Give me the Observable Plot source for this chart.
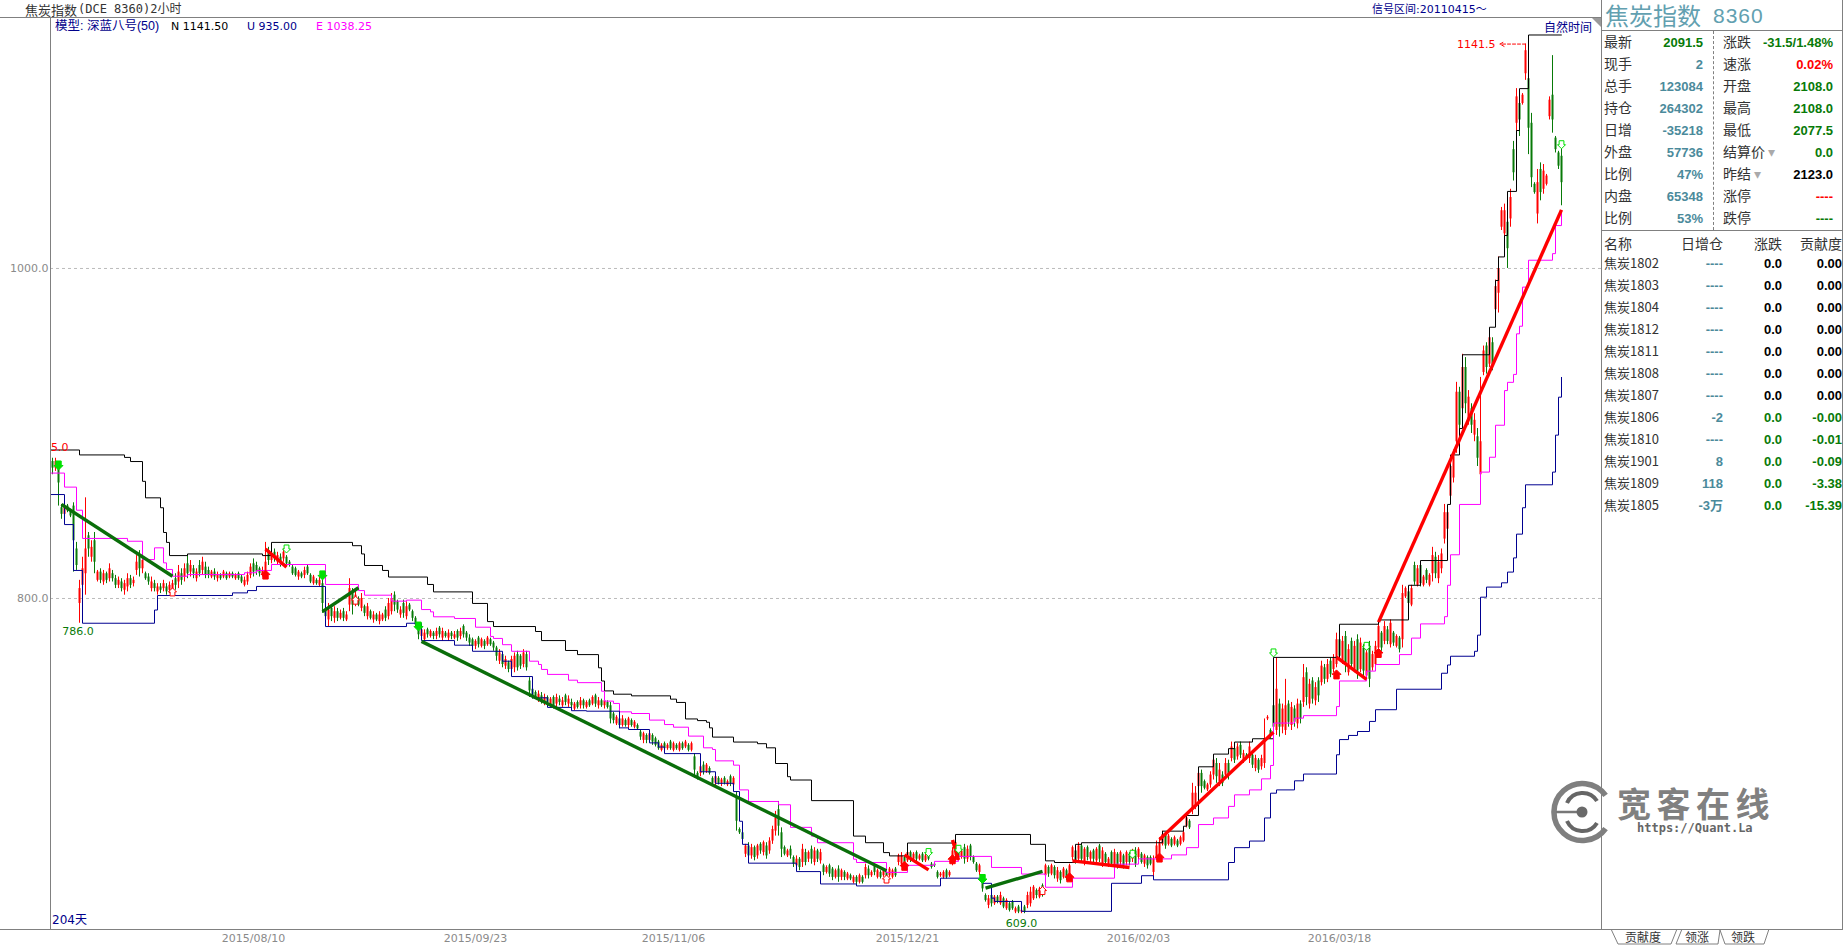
<!DOCTYPE html>
<html><head><meta charset="utf-8">
<script src="https://cdn.jsdelivr.net/npm/d3@7"></script>
<script src="https://cdn.jsdelivr.net/npm/@observablehq/plot@0.6"></script>
<style>
html,body{margin:0;padding:0;background:#fff;overflow:hidden;width:1843px;height:947px}
#root{position:relative;width:1843px;height:947px;font-family:"Noto Sans CJK SC",sans-serif}
#root svg{display:block}
.a{position:absolute;white-space:pre;line-height:1}
.ln{position:absolute;background:#808080}
</style></head><body><div id="root"></div>
<script>
// ---- candles: one value per 2-hour bar, 20 per row
const high=[
885,885,881,857,859,857,854,858,834,811,825,861,840,835,840,817,818,817,816,821,
817,814,813,812,811,815,814,813,826,829,826,816,815,813,811,809,809,811,809,810,
811,815,820,818,821,826,823,820,818,823,825,822,819,817,818,816,815,817,816,816,
816,815,816,814,813,816,821,824,822,819,819,834,831,828,830,828,827,830,826,823,
820,819,817,816,819,820,815,814,812,813,812,795,797,796,795,794,793,794,792,812,
806,805,801,803,796,797,793,792,791,792,791,795,800,803,804,799,795,799,798,797,
793,789,785,783,781,782,781,780,782,783,782,780,781,780,780,781,782,784,780,778,
776,775,777,776,775,777,776,774,771,769,767,765,762,765,767,768,766,769,768,752,
747,744,744,743,742,741,740,741,742,741,740,742,741,739,737,738,740,739,738,739,
741,742,740,739,739,738,737,731,729,728,729,727,728,727,726,724,720,719,718,719,
718,716,714,712,713,712,714,713,712,713,713,714,712,713,706,695,700,701,700,698,
692,693,692,691,692,690,693,692,683,661,659,651,652,651,650,651,652,653,652,655,
662,671,677,661,650,648,650,644,644,643,651,648,647,650,649,648,648,639,638,639,
637,636,638,636,635,634,633,632,632,633,632,639,638,635,639,636,635,636,635,637,
636,637,645,646,644,647,647,646,647,645,646,645,646,640,639,635,634,635,636,635,
649,655,650,648,651,650,651,644,640,639,632,621,620,621,620,620,622,619,618,616,
617,613,614,612,614,622,625,626,624,625,627,639,638,639,638,637,635,637,636,639,
650,648,652,651,649,650,647,648,649,651,649,646,643,647,648,646,647,645,647,646,
648,649,649,646,645,644,644,644,653,655,659,658,657,655,656,654,656,659,668,666,
688,686,697,696,690,688,695,705,703,700,695,703,702,713,711,712,713,708,706,713,
706,705,703,705,727,729,721,739,764,739,736,751,738,737,735,739,738,760,758,751,
752,749,752,762,760,763,764,766,779,778,777,780,772,776,774,778,776,772,770,774,
768,774,786,780,786,783,787,780,778,777,808,807,805,808,822,820,822,814,818,815,
831,828,826,830,857,856,885,890,931,928,948,946,926,918,912,903,934,953,955,961,
958,993,1007,1037,1039,1035,1048,1077,1109,1108,1106,1136,1134,1094,1052,1060,1064,1063,1057,1104,1129,1080,1071,1076];
const low=[
875,877,856,848,849,852,849,816,817,785,803,802,825,822,815,810,809,808,809,810,
810,806,806,804,802,804,806,807,814,813,815,811,808,804,804,802,803,804,802,803,
803,805,806,808,810,812,813,812,810,813,814,812,812,812,811,810,811,812,811,812,
812,811,811,809,807,808,812,813,814,813,813,814,820,821,822,820,819,822,819,819,
814,813,811,812,812,814,809,808,808,807,791,787,783,786,785,786,787,786,786,792,
790,795,795,792,789,787,787,785,786,784,786,786,787,790,792,791,788,788,787,792,
786,782,775,775,773,776,776,775,775,776,774,776,774,775,775,774,775,776,774,771,
770,769,770,770,769,771,771,768,762,760,758,757,755,754,755,756,757,758,756,740,
739,739,737,736,735,735,734,733,734,735,734,735,734,733,732,733,733,733,733,734,
735,734,733,734,733,733,724,724,723,721,722,722,721,722,721,720,714,712,712,713,
711,710,708,707,708,708,708,707,708,707,708,709,707,707,691,690,692,693,694,693,
687,686,687,686,687,686,686,685,659,657,652,643,642,642,641,642,645,644,642,645,
651,656,656,643,644,643,642,637,636,635,637,638,640,639,638,640,639,632,633,631,
629,630,628,629,629,629,629,627,626,627,627,630,630,631,632,630,630,631,630,631,
630,631,638,637,638,640,640,641,640,641,640,640,641,636,637,630,631,630,630,631,
638,640,641,642,639,640,641,639,634,632,622,616,612,613,614,615,614,612,611,610,
611,609,609,609,609,612,613,617,618,618,619,630,631,632,630,628,627,630,629,630,
641,639,640,640,638,641,640,640,639,640,637,638,637,637,635,636,638,636,638,638,
640,637,641,639,637,636,638,630,641,643,650,648,650,649,650,649,650,652,661,660,
669,672,684,682,684,683,685,690,688,686,686,691,690,701,700,702,703,700,702,700,
697,695,694,696,697,726,715,715,717,716,718,717,722,720,722,721,724,734,735,733,
736,735,737,747,748,749,752,755,758,762,760,755,753,758,755,751,755,752,751,746,
756,758,768,768,772,772,770,771,770,767,770,800,795,795,808,807,807,807,809,807,
810,812,809,815,833,838,858,870,888,900,908,912,905,900,895,880,870,935,936,940,
938,972,973,1023,1017,1000,1025,1053,1083,1080,1099,1114,1069,1049,1045,1027,1041,1045,1050,1090,1082,1070,1060,1038];
const open=[
883,879,879,855,851,856,853,856,830,797,808,815,838,825,835,811,816,810,815,812,
815,812,808,810,805,807,812,809,817,826,818,815,813,806,809,804,807,806,807,805,
805,812,810,815,813,821,816,818,812,820,817,819,817,813,816,812,814,813,815,813,
815,812,815,813,808,810,814,821,820,818,814,816,829,823,828,822,825,824,825,822,
819,818,813,815,814,819,814,809,811,808,809,793,787,794,788,792,788,792,787,796,
803,797,800,794,795,789,792,787,790,786,787,793,789,792,802,798,790,797,789,796,
792,788,784,777,775,781,777,779,777,782,776,779,776,779,776,780,777,783,779,776,
775,771,776,771,774,772,775,773,770,762,766,759,761,757,758,766,765,760,766,750,
745,743,739,741,737,740,735,740,736,739,735,741,736,737,733,737,735,738,734,738,
736,741,735,738,735,737,735,730,724,727,723,726,723,726,722,723,719,714,717,714,
717,715,713,708,712,709,713,708,711,708,712,710,711,708,704,694,694,699,695,697,
691,688,691,688,691,687,692,687,680,660,658,645,650,644,649,644,651,646,650,647,
653,659,672,658,649,644,648,643,638,642,640,646,642,648,640,647,641,638,634,638,
636,631,636,631,634,630,632,628,631,628,631,632,636,632,638,631,634,632,634,632,
631,636,640,639,643,641,646,642,646,642,645,641,645,639,639,634,632,631,635,632,
641,644,648,643,649,642,650,643,639,634,630,620,614,620,615,619,615,618,612,615,
616,610,613,610,613,614,615,618,623,619,626,632,637,633,637,630,634,631,635,631,
643,647,642,650,640,649,642,647,641,650,639,645,638,646,637,645,640,644,640,645,
642,647,643,645,639,643,643,634,643,645,651,657,651,654,651,653,651,653,662,665,
672,675,686,694,689,684,687,693,700,689,693,693,700,703,709,704,711,702,705,703,
705,697,702,698,700,727,720,735,720,736,722,720,736,723,733,724,736,737,755,736,
750,738,750,749,758,751,762,757,760,775,762,777,755,774,757,775,757,770,753,771,
758,760,770,779,774,781,772,779,771,776,775,801,804,796,820,808,820,808,817,808,
815,825,812,818,836,842,862,873,895,925,915,940,908,915,899,898,875,937,953,942,
955,975,985,1025,1021,1028,1030,1072,1088,1100,1100,1118,1115,1088,1051,1033,1060,1048,1051,1092,1105,1079,1070,1068];
const close=[
879,883,870,851,856,853,850,835,820,806,818,830,830,831,822,816,811,815,811,818,
812,808,811,806,809,812,808,811,822,818,823,812,810,810,806,807,805,809,804,808,
809,808,816,811,818,815,820,815,816,815,822,814,814,816,813,814,812,816,812,815,
813,814,812,810,811,814,819,816,816,815,817,822,823,827,824,826,821,828,821,820,
815,814,816,813,817,815,810,813,809,811,797,789,793,789,792,788,791,788,790,806,
796,802,796,800,791,795,788,790,787,790,790,788,797,800,796,793,793,791,795,793,
788,784,778,781,779,778,780,777,780,778,780,777,779,777,778,776,780,778,776,773,
771,774,772,775,771,776,772,770,765,767,760,763,757,763,765,758,759,767,758,744,
741,740,742,738,740,737,739,735,740,737,738,737,739,735,736,734,738,735,737,735,
740,736,738,735,738,734,727,726,728,723,727,723,727,723,725,721,716,718,714,718,
713,711,709,711,709,711,709,712,709,712,709,713,708,712,696,691,698,695,699,694,
688,692,688,690,688,689,688,691,665,658,654,650,644,649,643,650,647,652,644,653,
660,667,662,648,645,647,644,639,642,637,648,640,646,642,647,642,646,634,637,633,
631,635,631,635,631,633,630,631,628,632,628,637,632,634,634,635,631,635,631,636,
635,632,644,644,640,646,642,645,642,644,641,644,642,637,638,631,633,634,631,634,
647,652,643,647,642,648,643,640,635,638,624,617,618,615,619,616,620,613,617,611,
612,612,610,611,610,620,622,625,620,624,621,638,633,638,632,635,629,636,631,638,
649,641,650,642,648,643,646,642,648,642,647,640,642,639,646,638,646,638,646,640,
647,639,648,640,644,638,639,642,650,652,657,650,656,650,655,650,655,658,667,661,
682,682,694,686,685,687,693,702,692,696,688,700,693,710,702,710,705,706,703,710,
699,703,696,703,715,728,717,722,745,722,733,735,725,734,725,736,727,752,740,748,
739,746,741,759,751,760,754,764,775,765,774,760,769,760,771,756,773,756,767,751,
766,771,783,770,783,774,785,773,777,769,803,806,797,806,810,818,809,813,811,814,
826,815,822,827,852,852,880,886,925,905,940,918,922,905,908,885,895,950,940,958,
942,989,1000,1035,1035,1012,1043,1058,1104,1090,1105,1132,1085,1055,1046,1052,1046,1059,1056,1102,1090,1072,1062,1052];

// ---- channel lines: [bar index, price] at each change
const upperN=[[-1,890],[9,887],[24,885.5],[26,883],[30,871],[31,861],[36,855],[37,840],[38,834],[39,826],[45,827],[70,826],[73,834],[100,832],[103,827],[104,820],[110,817],[112,813],[125,808.5],[127,804],[140,797],[145,786],[147,783],[161,780],[163,774.5],[171,768.5],[175,766],[182,758],[183,750],[184,744],[187,742],[193,741],[206,739],[208,737],[211,727],[215,726],[218,725],[219,721.6],[220,716],[227,713],[235,712],[238,709.5],[241,700],[245,692],[246,690],[253,677.5],[267,656],[271,652],[277,646],[279,644],[285,651.8],[301,657],[326,651],[331,641],[334,640],[341,651],[343,652],[370,659],[377,662],[378,668.5],[382,698],[387,705.7],[392,709],[394,713],[400,715],[407,764.3],[429,784.4],[442,787],[452,808],[456,823],[465,857],[466,887],[469,903],[470,947.7],[479,964.4],[481,992.7],[482,1007],[484,1020],[485,1046.7],[488,1083.6],[489,1109],[492,1141.5],[503,1141.5]];
const midE=[[-1,876],[4,867.5],[8,853.5],[10,836.4],[25,834.7],[30,823.6],[34,830.7],[37,821.6],[38,817.6],[40,813.5],[45,814.5],[64,815.6],[68,817],[73,820.6],[91,808.5],[102,804.8],[104,802],[113,798.4],[118,799],[123,793.3],[126,791.9],[127,788.9],[134,787.9],[141,782.6],[146,777],[147,775.8],[150,772],[153,768],[159,762],[162,760],[163,757],[165,754],[172,750.5],[175,749],[183,743.8],[184,737.8],[187,736.4],[189,731.3],[193,730.3],[199,726.3],[204,723.6],[207,722],[212,716.6],[217,709.5],[220,708.5],[221,701.6],[227,699],[229,684],[232,677],[242,675],[246,661.3],[253,656],[255,652],[267,642],[268,640],[278,634],[285,638.3],[294,640.7],[302,643.7],[313,637],[323,633],[331,625],[340,630.5],[354,639],[362,642.2],[373,644.6],[378,649],[382,663],[387,667],[392,674],[394,681],[399,684],[403,690.7],[406,698.8],[407,724.5],[414,727.5],[417,729],[428,734.5],[429,750],[438,756],[441,760],[449,766],[453,776],[456,784.6],[464,789],[465,808],[466,826.5],[469,857],[476,876.6],[479,885.6],[481,905],[484,926],[485,931],[487,935.8],[488,960.4],[489,965],[490,988.7],[492,1005],[500,1009],[501,1026],[503,1035]];
const lowerU=[[-1,863],[4,844.8],[7,817],[10,785],[34,793],[35,801.8],[60,803.4],[65,804.8],[68,807.3],[91,783],[118,785],[123,774.5],[134,771.7],[140,768],[150,762],[153,752.7],[160,739.8],[165,734],[173,732],[178,731.7],[189,721.6],[192,720.6],[199,712.5],[202,710],[204,706],[216,695],[221,688],[227,683],[229,665],[230,651],[232,639.6],[248,634.5],[256,627],[268,625.8],[296,630.5],[310,627.4],[313,618.4],[314,616.4],[323,610.4],[353,627.4],[363,632],[367,629.5],[392,640],[394,649],[399,653],[404,667],[406,682],[408,684],[414,689.5],[417,693.6],[428,705.3],[429,714.5],[432,717],[435,719.4],[439,725.5],[441,732.6],[448,745],[463,754.7],[465,759.7],[466,765],[474,768],[475,777.8],[476,800.8],[478,806.9],[483,809.5],[485,816],[487,824.6],[488,839],[490,855],[491,868.9],[500,876.6],[501,899],[502,922],[503,934]];

// ---- trend segments: [bar, price, bar, price]
const greenTrends=[[3,857,40,813.5],[90,792,102,806.5],[123,774,278,635],[311,624.5,330,634.6]];
const redTrends=[[71,830,78,819],[284,644.6,292,635.5],[300,653.6,302,641.5],[340,641,359,637],[369,654,407,719],[428,764.5,438,751],[442,785.7,503,1035.5]];

// ---- signals: [bar, price]
const sellFilled=[[2,880.6],[90,814],[122,783],[310,630]];
const buyFilled=[[71,814.5],[284,638],[300,642],[339,631],[369,643],[428,754],[442,767]];
const buyHollow=[[40,804],[101,799],[278,630],[330,623]];
const sellHollow=[[78,830],[292,646],[302,648],[360,645],[407,767],[438,771],[503,1075]];

// ---- axes
const dateTicks=[67,141,207,285,362,429];
const dateLabels=["2015/08/10","2015/09/23","2015/11/06","2015/12/21","2016/02/03","2016/03/18"];
const priceTicks=[800,1000];

// ---- quote panel
const quoteLeftLabels=["最新","现手","总手","持仓","日增","外盘","比例","内盘","比例"];
const quoteLeftValues=["2091.5","2","123084","264302","-35218","57736","47%","65348","53%"];
const quoteRightLabels=["涨跌","速涨","开盘","最高","最低","结算价","昨结","涨停","跌停"];
const quoteRightValues=["-31.5/1.48%","0.02%","2108.0","2108.0","2077.5","0.0","2123.0","----","----"];
const tableHeader=["名称","日增仓","涨跌","贡献度"];
const contracts=["焦炭1802","焦炭1803","焦炭1804","焦炭1812","焦炭1811","焦炭1808","焦炭1807","焦炭1806","焦炭1810","焦炭1901","焦炭1809","焦炭1805"];
const oiChange=["----","----","----","----","----","----","----","-2","----","8","118","-3万"];
const contractChange=["0.0","0.0","0.0","0.0","0.0","0.0","0.0","0.0","0.0","0.0","0.0","0.0"];
const contribution=["0.00","0.00","0.00","0.00","0.00","0.00","0.00","-0.00","-0.01","-0.09","-3.38","-15.39"];

const GREEN="#087a08",DGREEN="#0a6e0a",RED="#ff0000",TEAL="#4b8a9b",NAVY="#00008b",GREY="#8a8a8a";
const bars=high.map((h,i)=>({i,high:h,low:low[i],open:open[i],close:close[i]}));
const ups=bars.filter(b=>b.close>=b.open), downs=bars.filter(b=>b.close<b.open);

function arrow(dir){return {draw(c,size){const s=Math.sqrt(size/Math.PI)*dir;
  c.moveTo(-s*.6,-s);c.lineTo(s*.6,-s);c.lineTo(s*.6,0);c.lineTo(s,0);c.lineTo(0,s);c.lineTo(-s,0);c.lineTo(-s*.6,0);c.closePath();}};}
const crisp={style:{shapeRendering:"crispEdges"}};
const candle=(rows,color)=>[
  Plot.ruleX(rows,{x:"i",y1:"low",y2:"high",stroke:color,strokeWidth:1,...crisp}),
  Plot.ruleX(rows,{x:"i",y1:"open",y2:"close",stroke:color,strokeWidth:2,...crisp})
];
const step=(rows,color)=>Plot.line(rows,{x:d=>d[0],y:d=>d[1],curve:"step-after",stroke:color,strokeWidth:1,clip:true,...crisp});
const trend=(rows,color)=>Plot.link(rows,{x1:d=>d[0],y1:d=>d[1],x2:d=>d[2],y2:d=>d[3],stroke:color,strokeWidth:3.4,...crisp});
const sig=(rows,dir,fill,stroke,r)=>Plot.dot(rows,{x:d=>d[0],y:d=>d[1],symbol:arrow(dir),r,fill,stroke,strokeWidth:1,...crisp});

const chart=Plot.plot({
  width:1843,height:947,marginTop:17,marginBottom:18,marginLeft:50,marginRight:242,
  x:{domain:[-0.67,516.33]},y:{domain:[599.4,1152.1]},
  style:{fontFamily:"'DejaVu Sans',sans-serif",fontSize:"11px",background:"transparent"},
  marks:[
    Plot.ruleY(priceTicks,{stroke:"#bcbcbc",strokeDasharray:"3,3",...crisp}),
    Plot.axisY({ticks:priceTicks,tickFormat:d=>d.toFixed(1),tickSize:0,tickPadding:2,label:null,fill:GREY}),
    Plot.axisX({ticks:dateTicks,tickFormat:d=>dateLabels[dateTicks.indexOf(d)],tickSize:0,tickPadding:5,label:null,fill:GREY}),
    ...candle(ups,RED),...candle(downs,GREEN),
    step(upperN,"#000000"),step(midE,"#ff00ff"),step(lowerU,"#000090"),
    trend(greenTrends,DGREEN),trend(redTrends,RED),
    sig(sellFilled,1,"#00e000","#00e000",4.5),sig(buyFilled,-1,RED,RED,4.5),
    sig(buyHollow,-1,"#fff",RED,4),sig(sellHollow,1,"#fff","#00e000",4),
    Plot.arrow([[491,1136,482.5,1136]],{x1:d=>d[0],y1:d=>d[1],x2:d=>d[2],y2:d=>d[3],stroke:RED,strokeWidth:1,strokeDasharray:"3,2",headLength:7}),
    Plot.text([[481,1141.5,"1141.5"]],{x:d=>d[0],y:d=>d[1],text:d=>d[2],fill:RED,textAnchor:"end",dy:9}),
    Plot.text([[-0.5,891.5,"5.0"]],{x:d=>d[0],y:d=>d[1],text:d=>d[2],fill:RED,textAnchor:"start"}),
    Plot.text([[8.5,786,"786.0"],[323,609,"609.0"]],{x:d=>d[0],y:d=>d[1],text:d=>d[2],fill:GREEN,dy:10}),
    Plot.frame({stroke:"#808080"})
  ]
});
const root=document.getElementById("root");
root.appendChild(chart);

function put(text,o){const s=document.createElement("div");s.className="a";s.textContent=text;
  const st=s.style;st.top=(o.y-(o.size||13)/2)+"px";
  if(o.right!=null){st.right=(1843-o.right)+"px";}else{st.left=o.x+"px";}
  st.fontSize=(o.size||13)+"px";st.color=o.color||"#222";
  if(o.font)st.fontFamily=o.font;if(o.bold)st.fontWeight="bold";if(o.ls)st.letterSpacing=o.ls+"px";
  root.appendChild(s);}
function line(x,y,w,h,dash){const d=document.createElement("div");d.className="ln";
  d.style.cssText+=`left:${x}px;top:${y}px;width:${w}px;height:${h}px;`;
  if(dash){d.style.background="none";d.style.borderLeft="1px dashed #808080";d.style.width="0";}
  root.appendChild(d);}

// frame of the terminal window
line(0,17,1601,1);line(1601,0,1,929);line(0,929,1843,1);line(1842,0,1,929);
line(1601,30,242,1);line(1601,230,242,1);line(1713,31,1,199,true);

const DJ="'DejaVu Sans',sans-serif",LS="'Liberation Sans',sans-serif",CJK="'Noto Sans CJK SC',sans-serif";
put("焦炭指数",{x:25,y:9,size:13,color:"#333"});
put("(DCE 8360)2小时",{x:78,y:9,size:12,color:"#333",font:"'DejaVu Sans Mono',"+CJK});
put("信号区间:20110415～",{x:1372,y:9,size:11,color:NAVY,font:DJ+","+CJK});
put("模型: 深蓝八号(50)",{x:55,y:26,size:12.5,color:NAVY,font:LS+","+CJK});
put("N 1141.50",{x:171,y:26,size:11,color:"#000",font:DJ});
put("U 935.00",{x:247,y:26,size:11,color:NAVY,font:DJ});
put("E 1038.25",{x:316,y:26,size:11,color:"#ff00ff",font:DJ});
put("自然时间",{x:1544,y:27,size:12,color:NAVY});
put("204天",{x:52,y:920,size:12,color:NAVY,font:DJ+","+CJK});

put("焦炭指数",{x:1605,y:15,size:24,color:"#62a0b0"});
put("8360",{x:1713,y:15,size:21,color:"#62a0b0",font:LS,ls:1});

const leftColors=[GREEN,TEAL,TEAL,TEAL,TEAL,TEAL,TEAL,TEAL,TEAL];
const rightColors=[GREEN,RED,GREEN,GREEN,GREEN,GREEN,"#000",RED,GREEN];
quoteLeftLabels.forEach((t,r)=>{const y=41+r*22;
  put(t,{x:1604,y,size:14,color:"#333"});
  put(quoteLeftValues[r],{right:1703,y:y+1,size:13,bold:true,color:leftColors[r],font:LS});
  put(quoteRightLabels[r],{x:1723,y,size:14,color:"#333"});
  put(quoteRightValues[r],{right:1833,y:y+1,size:13,bold:true,color:rightColors[r],font:LS});
});
put("▾",{x:1768,y:151,size:14,color:"#aaa"});
put("▾",{x:1754,y:173,size:14,color:"#aaa"});

put(tableHeader[0],{x:1604,y:243,size:14,color:"#333"});
put(tableHeader[1],{right:1723,y:243,size:14,color:"#333"});
put(tableHeader[2],{right:1782,y:243,size:14,color:"#333"});
put(tableHeader[3],{right:1842,y:243,size:14,color:"#333"});
contracts.forEach((t,r)=>{const y=262.5+r*22;
  const neg=contribution[r].startsWith("-");
  put(t,{x:1604,y,size:13,color:"#333"});
  put(oiChange[r],{right:1723,y:y+1,size:13,bold:true,color:TEAL,font:LS+","+CJK});
  put(contractChange[r],{right:1782,y:y+1,size:13,bold:true,color:neg?GREEN:"#000",font:LS});
  put(contribution[r],{right:1842,y:y+1,size:13,bold:true,color:neg?GREEN:"#000",font:LS});
});

// watermark, corner mark and tabs
const ns="http://www.w3.org/2000/svg";
const deco=document.createElementNS(ns,"svg");
deco.setAttribute("width",1843);deco.setAttribute("height",947);
deco.style.cssText="position:absolute;left:0;top:0;pointer-events:none";
deco.innerHTML=`
<polygon points="1592,18 1601,18 1601,27" fill="#9a9a9a"/>
<g fill="none" stroke-linecap="butt">
<path d="M1605.6,795.4 A28.5,28.5 0 1 0 1605.6,828.6" stroke="#7f7f7f" stroke-width="5.5"/>
<path d="M1597,801 A17,17 0 0 0 1567,803" stroke="#666" stroke-width="4"/>
<path d="M1567,821 A17,17 0 0 0 1597,823" stroke="#666" stroke-width="4"/>
<path d="M1556,812 L1580,812" stroke="#777" stroke-width="2.5"/>
</g><circle cx="1582" cy="812" r="5.5" fill="#6a6a6a"/>
<g fill="none" stroke="#808080" stroke-width="1">
<polyline points="1611,929 1618,944 1671,944 1677,929"/>
<polyline points="1682,929 1676,944 1718,944 1720,930"/>
<polyline points="1720,930 1725,944 1764,944 1769,929"/>
</g>`;
root.appendChild(deco);
put("贡献度",{x:1625,y:937,size:12,color:"#333"});
put("领涨",{x:1685,y:937,size:12,color:"#333"});
put("领跌",{x:1731,y:937,size:12,color:"#333"});
put("宽客在线",{x:1617,y:803,size:34,color:"#808080",ls:5.5,bold:true});
put("https://Quant.La",{x:1637,y:828,size:12,color:"#666",bold:true,font:"'DejaVu Sans Mono',monospace"});
</script></body></html>
